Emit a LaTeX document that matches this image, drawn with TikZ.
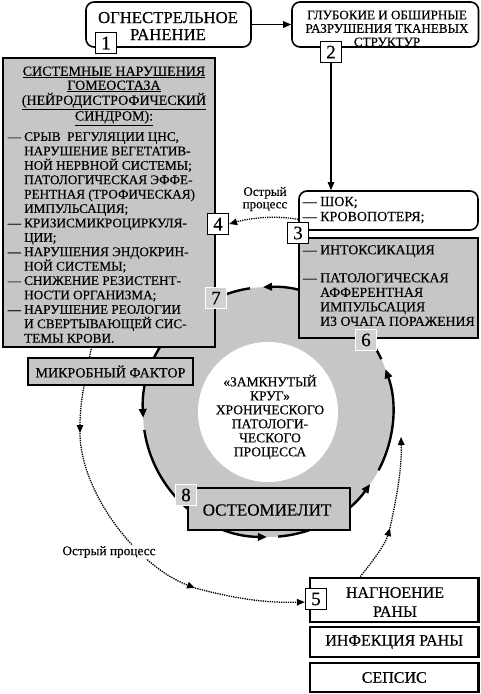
\documentclass[tikz,border=0pt]{standalone}
\usepackage{fontspec}
\setmainfont[FakeBold=0.35]{Liberation Serif}
\usetikzlibrary{arrows.meta}
\definecolor{boxgray}{RGB}{198,198,198}
\definecolor{labgray}{RGB}{210,210,210}
\newcommand{\fsz}[2]{\fontsize{#1}{#2}\selectfont}
\begin{document}
\begin{tikzpicture}[x=1pt,y=-1pt,
 rbox/.style={draw,line width=1.6pt,rounded corners=8pt,fill=white,inner sep=0pt},
 gbox/.style={draw,line width=2.6pt,fill=boxgray,inner sep=0pt},
 wbox/.style={draw,line width=2.6pt,fill=white,inner sep=0pt},
 numw/.style={draw,line width=1.3pt,fill=white,minimum width=21pt,minimum height=21pt,inner sep=0pt,font=\fsz{19}{19}},
 numg/.style={draw=white,line width=1.3pt,fill=labgray,minimum width=21pt,minimum height=21pt,inner sep=0pt,font=\fsz{19}{19}},
 ring/.style={line width=2.4pt,-{Triangle[length=9pt,width=7.5pt]}},
 dotl/.style={densely dotted,line width=1.3pt},
 dtip/.style={-{Triangle[length=8pt,width=6.5pt]}},
 thinarr/.style={line width=1.2pt,-{Triangle[length=8pt,width=6.5pt]}},
 txt/.style={inner sep=0pt,align=center},
]
\useasboundingbox (0,0) rectangle (481,694);
% ring
\coordinate (C) at (268,412);
\fill[boxgray] (C) circle (125);
\fill[white] (C) circle (70);
\draw[ring] (C) ++(-25:125) arc[start angle=-25,end angle=-92.3,radius=125];
\draw[ring] (C) ++(-98.3:125) arc[start angle=-98.3,end angle=-182.7,radius=125];
\draw[ring] (C) ++(-188.3:125) arc[start angle=-188.3,end angle=-269.5,radius=125];
\draw[ring] (C) ++(-274.6:125) arc[start angle=-274.6,end angle=-324.8,radius=125];
\draw[ring] (C) ++(-332.2:125) arc[start angle=-332.2,end angle=-380,radius=125];
% outer dotted path (left part)
\coordinate (o0) at (93,340);
\coordinate (o1) at (80,433);
\coordinate (o2) at (195,588);
\coordinate (o4) at (390,528);
\coordinate (o5) at (401,437);
\draw[dotl,dtip] (o0) .. controls (86,375) and (80,400) .. (o1);
\draw[dotl,dtip] (o1) .. controls (80,490) and (135,565) .. (o2);
% boxes
\node[gbox,minimum width=212pt,minimum height=289pt] (sys) at (109,202.5) {};
\node[gbox,minimum width=165pt,minimum height=27pt,font=\fsz{14}{14}] (mf) at (110.5,371.5) {МИКРОБНЫЙ ФАКТОР};
\node[gbox,minimum width=162pt,minimum height=42pt] (b8) at (269,509) {};
\node[rbox,minimum width=179pt,minimum height=39pt] (b3) at (388.5,210.5) {};
\node[gbox,minimum width=179pt,minimum height=100pt] (b6) at (388.5,288) {};
\node[wbox,minimum width=168.5pt,minimum height=44pt] (b5) at (394.25,600) {};
\node[wbox,minimum width=168.5pt,minimum height=30pt,font=\fsz{16}{16}] (inf) at (394.25,642) {ИНФЕКЦИЯ РАНЫ};
\node[wbox,minimum width=168.5pt,minimum height=29pt,font=\fsz{16}{16}] (sep) at (394.25,677.5) {СЕПСИС};
\node[rbox,minimum width=165pt,minimum height=45pt] (b1) at (168.5,24.5) {};
\node[rbox,minimum width=186.5pt,minimum height=45pt] (b2) at (385.25,24.5) {};
% texts
\node[txt,font=\fsz{16.7}{17}] (t1) at (168,26) {ОГНЕСТРЕЛЬНОЕ\\РАНЕНИЕ};
\node[txt,font=\fsz{13.1}{13.5}] (t2) at (387,28.5) {ГЛУБОКИЕ И ОБШИРНЫЕ\\РАЗРУШЕНИЯ ТКАНЕВЫХ\\СТРУКТУР};
\node[inner sep=0pt,anchor=west,align=left,font=\fsz{14}{15}] (t3) at (320,210) {\llap{— }ШОК;\\\llap{— }КРОВОПОТЕРЯ;};
\node[inner sep=0pt,anchor=north west,align=left,font=\fsz{13.8}{14.5}] (t6) at (320,245) {\llap{— }ИНТОКСИКАЦИЯ\\[13.5pt]\llap{— }ПАТОЛОГИЧЕСКАЯ\\АФФЕРЕНТНАЯ\\ИМПУЛЬСАЦИЯ\\ИЗ ОЧАГА ПОРАЖЕНИЯ};
\node[txt,font=\fsz{14}{14}] (systitle) at (114,96) {\underline{СИСТЕМНЫЕ НАРУШЕНИЯ}\\\underline{ГОМЕОСТАЗА}\\\underline{(НЕЙРОДИСТРОФИЧЕСКИЙ}\\\underline{СИНДРОМ):}};
\node[inner sep=0pt,anchor=north west,align=left,font=\fsz{13.2}{14.4}] (syslist) at (24,132) {%
\llap{— }СРЫВ\ \ РЕГУЛЯЦИИ ЦНС,\\
НАРУШЕНИЕ ВЕГЕТАТИВ-\\
НОЙ НЕРВНОЙ СИСТЕМЫ;\\
ПАТОЛОГИЧЕСКАЯ ЭФФЕ-\\
РЕНТНАЯ (ТРОФИЧЕСКАЯ)\\
ИМПУЛЬСАЦИЯ;\\
\llap{— }КРИЗИСМИКРОЦИРКУЛЯ-\\
ЦИИ;\\
\llap{— }НАРУШЕНИЯ ЭНДОКРИН-\\
НОЙ СИСТЕМЫ;\\
\llap{— }СНИЖЕНИЕ РЕЗИСТЕНТ-\\
НОСТИ ОРГАНИЗМА;\\
\llap{— }НАРУШЕНИЕ РЕОЛОГИИ\\
И СВЕРТЫВАЮЩЕЙ СИС-\\
ТЕМЫ КРОВИ.};
\node[txt,font=\fsz{17}{17}] (t8) at (267,510) {ОСТЕОМИЕЛИТ};
\node[txt,font=\fsz{16}{19}] (t5) at (395,602) {НАГНОЕНИЕ\\РАНЫ};
\node[txt,font=\fsz{13.5}{14}] (ct) at (270,417) {«ЗАМКНУТЫЙ\\КРУГ»\\ХРОНИЧЕСКОГО\\ПАТОЛОГИ-\\ЧЕСКОГО\\ПРОЦЕССА};
% labels
\node[numw] (n1) at (106,43) {1};
\node[numw] (n2) at (331,52) {2};
\node[numw] (n3) at (298,233) {3};
\node[numw] (n4) at (218,224) {4};
\node[numw] (n5) at (316,599) {5};
\node[numg] (n6) at (366,340) {6};
\node[numg] (n7) at (216,298) {7};
\node[numg] (n8) at (186,495) {8};
% connectors
\draw[thinarr] (b1.east) -- (b2.west);
\draw[thinarr] (n2.south) -- (n2.south |- b3.north);
\draw[dotl,dtip] ([yshift=-9pt]b3.west) .. controls (276,215) and (250,218) .. (n4.east);
\draw[dotl,dtip] (o2) .. controls (240,600) and (270,603) .. ([yshift=-3pt]n5.west);
\draw[dotl,dtip] ([xshift=-34pt]b5.north) .. controls (372,562) and (385,545) .. (o4);
\draw[dotl,dtip] (o4) .. controls (396,500) and (402,470) .. (o5);
\node[txt,font=\fsz{13}{12.5}] (op1) at (265,199) {Острый\\процесс};
\node[txt,fill=white,inner sep=1pt,font=\fsz{13.3}{13}] (op2) at (109,552) {Острый процесс};
\end{tikzpicture}
\end{document}
